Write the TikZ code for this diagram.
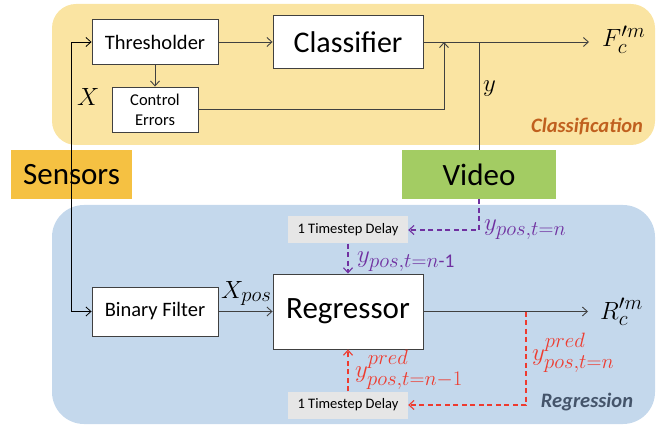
\documentclass[tikz,border=0pt]{standalone}
\usepackage{amsmath}
\usepackage{fontspec}
\setmainfont{Carlito}
\renewcommand{\defaultscriptratio}{.76}
\renewcommand{\defaultscriptscriptratio}{.56}
\definecolor{Edge}{HTML}{404040}
\definecolor{ClassWash}{HTML}{FAE4A2}
\definecolor{RegWash}{HTML}{C4D8EC}
\definecolor{SensorGold}{HTML}{F5C142}
\definecolor{VideoGreen}{HTML}{A3CC63}
\definecolor{DelayGrey}{HTML}{E6E6E6}
\definecolor{PosPurple}{HTML}{7030A0}
\definecolor{PredRed}{HTML}{EE3B2F}
\definecolor{ClassInk}{HTML}{C0601E}
\definecolor{RegInk}{HTML}{44546A}
\usetikzlibrary{arrows.meta}

\begin{document}
\begin{tikzpicture}[
    x=1pt, y=1pt,
    blk/.style={
      draw=Edge, line width=0.9pt, fill=white,
      inner sep=0pt, align=center
    },
    delaybox/.style={
      fill=DelayGrey, inner sep=0pt, minimum width=120pt,
      minimum height=27pt, font=\fontsize{14.5}{16}\selectfont
    },
    srcbox/.style={
      inner sep=0pt, minimum height=49pt,
      font=\fontsize{31}{34}\selectfont
    },
    arr/.style={-{Straight Barb[length=5pt,width=9pt]}, line width=0.9pt, Edge},
    pdash/.style={arr, PosPurple, line width=1.1pt, dash pattern=on 5pt off 3.5pt},
    rdash/.style={arr, PredRed, line width=1.1pt, dash pattern=on 5pt off 3.5pt},
    mlab/.style={inner sep=0pt, anchor=base west, font=\fontsize{25.5}{28}\selectfont},
    tag/.style={font=\fontsize{20.5}{24}\selectfont\bfseries\itshape}
  ]
    \useasboundingbox (0,0) rectangle (661,426);

    % the two stages
    \fill[ClassWash, rounded corners=24pt] (52,281) rectangle (655,422);
    \fill[RegWash, rounded corners=32pt] (52,2) rectangle (655,221);
    \node[tag, text=ClassInk] (clab) at (587,299) {Classification};
    \node[tag, text=RegInk] (rlab) at (587,24) {Regression};

    % blocks
    \node[blk, minimum width=126pt, minimum height=45pt,
      font=\fontsize{20.5}{24}\selectfont] (thr) at (155,384) {Thresholder};
    \node[blk, minimum width=86pt, minimum height=45pt,
      font=\fontsize{16.5}{20}\selectfont] (ce) at (155,316.5) {Control\\Errors};
    \node[blk, minimum width=150pt, minimum height=53pt,
      font=\fontsize{30}{34}\selectfont] (cls) at (348,384) {Classifier};
    \node[blk, minimum width=126pt, minimum height=49pt,
      font=\fontsize{20.5}{24}\selectfont] (bin) at (155,114.5) {Binary Filter};
    \node[blk, minimum width=150pt, minimum height=75pt,
      font=\fontsize{31}{34}\selectfont] (reg) at (348,114.5) {Regressor};
    \node[delaybox] (dtop) at (348,196) {1 Timestep Delay};
    \node[delaybox] (dbot) at (348,21) {1 Timestep Delay};
    \node[srcbox, fill=SensorGold, minimum width=121pt] (sens) at (71.5,251.5) {Sensors};
    \node[srcbox, fill=VideoGreen, minimum width=154pt] (vid) at (479,251.5) {Video};

    \coordinate (ceup) at (444,384);
    \coordinate (fout) at (589,384);
    \coordinate (rout) at (588,114.5);
    \coordinate (rtap) at (526,114.5);

    % classification path
    \draw[arr, black, line width=0.8pt] (sens.center) |- (thr);
    \draw[arr] (thr) -- (cls);
    \draw[arr] (thr) -- (ce);
    \draw[arr] (ce.east) -| (ceup);
    \draw[arr] (cls) -- (fout);
    \draw[Edge, line width=0.9pt] (vid.north) -- (vid.north |- cls.east);

    % regression path
    \draw[arr, black, line width=0.8pt] (sens.center) |- (bin);
    \draw[arr] (bin) -- (reg);
    \draw[arr] (reg) -- (rout);
    \draw[pdash] (vid.south) |- (dtop.east);
    \draw[pdash] (dtop) -- (reg);
    \draw[rdash] (rtap) |- (dbot.east);
    \draw[rdash] (dbot) -- (reg);

    % signal labels
    \node[mlab] (xl) at (77,320) {$X$};
    \node[mlab] (yl) at (483,334) {$y$};
    \node[mlab] (fl) at (602,379) {$F^{\prime m}_{c}$};
    \node[mlab] (rl) at (600,107) {$R^{\prime m}_{c}$};
    \node[mlab] (xpl) at (221,128) {$X_{pos}$};
    \node[mlab, text=PosPurple] (ynl) at (484,195) {$y_{pos,t=n}$};
    \node[mlab, text=PosPurple] (yml) at (357,163) {$y_{pos,t=n\text{-1}}$};
    \node[mlab, text=PredRed] (pnl) at (532,66) {$y^{pred}_{pos,t=n}$};
    \node[mlab, text=PredRed] (pml) at (355,49) {$y^{pred}_{pos,t=n-1}$};
  \end{tikzpicture}
\end{document}
